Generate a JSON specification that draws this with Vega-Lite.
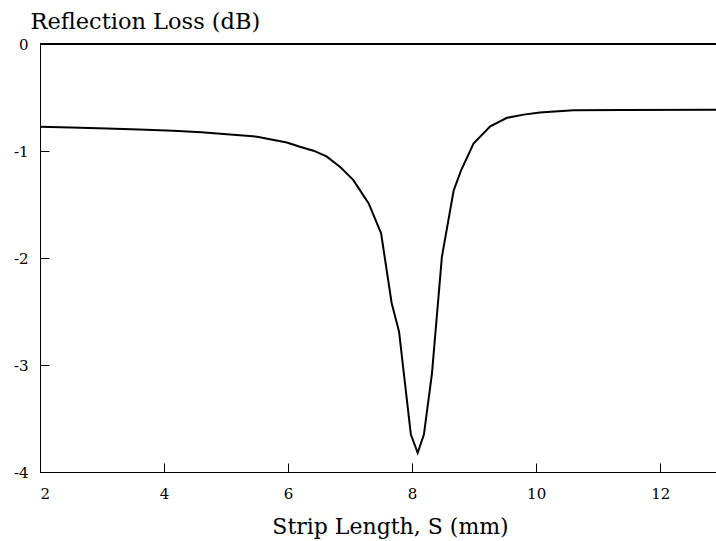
{
  "$schema": "https://vega.github.io/schema/vega-lite/v6.json",
  "width": 676,
  "height": 428,
  "autosize": {"type": "none"},
  "padding": {"left": 40, "top": 44, "right": 0, "bottom": 69},
  "background": "white",
  "config": {
    "view": {"stroke": null},
    "font": "DejaVu Serif",
    "axis": {
      "grid": false,
      "domainColor": "black",
      "domainWidth": 1,
      "tickColor": "black",
      "tickWidth": 1,
      "tickSize": -9,
      "labelFont": "DejaVu Serif",
      "labelFontSize": 15,
      "labelColor": "black",
      "titleFont": "DejaVu Serif",
      "titleFontSize": 22,
      "titleFontWeight": "normal",
      "titleColor": "black"
    }
  },
  "data": {
    "values": [
      {"S": 2.0, "RL": -0.773},
      {"S": 2.5, "RL": -0.78},
      {"S": 3.08, "RL": -0.79},
      {"S": 3.6, "RL": -0.8},
      {"S": 4.15, "RL": -0.81},
      {"S": 4.6, "RL": -0.825},
      {"S": 4.96, "RL": -0.84},
      {"S": 5.5, "RL": -0.866},
      {"S": 5.98, "RL": -0.92},
      {"S": 6.19, "RL": -0.96},
      {"S": 6.41, "RL": -0.997},
      {"S": 6.62, "RL": -1.05},
      {"S": 6.84, "RL": -1.15},
      {"S": 7.05, "RL": -1.27},
      {"S": 7.3, "RL": -1.49},
      {"S": 7.5, "RL": -1.77},
      {"S": 7.67, "RL": -2.42},
      {"S": 7.79, "RL": -2.69},
      {"S": 7.98, "RL": -3.65},
      {"S": 8.09, "RL": -3.82},
      {"S": 8.19, "RL": -3.65},
      {"S": 8.32, "RL": -3.08},
      {"S": 8.48, "RL": -1.99},
      {"S": 8.67, "RL": -1.37},
      {"S": 8.79, "RL": -1.18},
      {"S": 8.99, "RL": -0.93},
      {"S": 9.26, "RL": -0.77},
      {"S": 9.53, "RL": -0.69},
      {"S": 9.8, "RL": -0.66},
      {"S": 10.06, "RL": -0.64},
      {"S": 10.6, "RL": -0.62},
      {"S": 11.41, "RL": -0.617},
      {"S": 12.9, "RL": -0.615}
    ]
  },
  "layer": [
    {
      "mark": {"type": "line", "color": "black", "strokeWidth": 2, "clip": true},
      "encoding": {
        "x": {
          "field": "S",
          "type": "quantitative",
          "scale": {"domain": [2, 12.9], "nice": false, "zero": false},
          "axis": {
            "values": [2, 4, 6, 8, 10, 12],
            "labelExpr": "'' + datum.value",
            "title": "Strip Length, S (mm)",
            "labelPadding": 23,
            "titleX": 350,
            "titleY": 61,
            "titleAlign": "center",
            "titleBaseline": "alphabetic"
          }
        },
        "y": {
          "field": "RL",
          "type": "quantitative",
          "scale": {"domain": [-4, 0], "nice": false, "zero": false},
          "axis": {
            "values": [-4, -3, -2, -1, 0],
            "labelExpr": "datum.value < 0 ? '-' + abs(datum.value) : '' + datum.value",
            "title": "Reflection Loss (dB)",
            "titleFontSize": 22.5,
            "labelPadding": 21,
            "titleAngle": 0,
            "titleAlign": "left",
            "titleBaseline": "alphabetic",
            "titleX": -10,
            "titleY": -16
          }
        }
      }
    },
    {
      "mark": {"type": "rule", "color": "black", "strokeWidth": 1},
      "encoding": {"y": {"datum": 0}}
    }
  ]
}
